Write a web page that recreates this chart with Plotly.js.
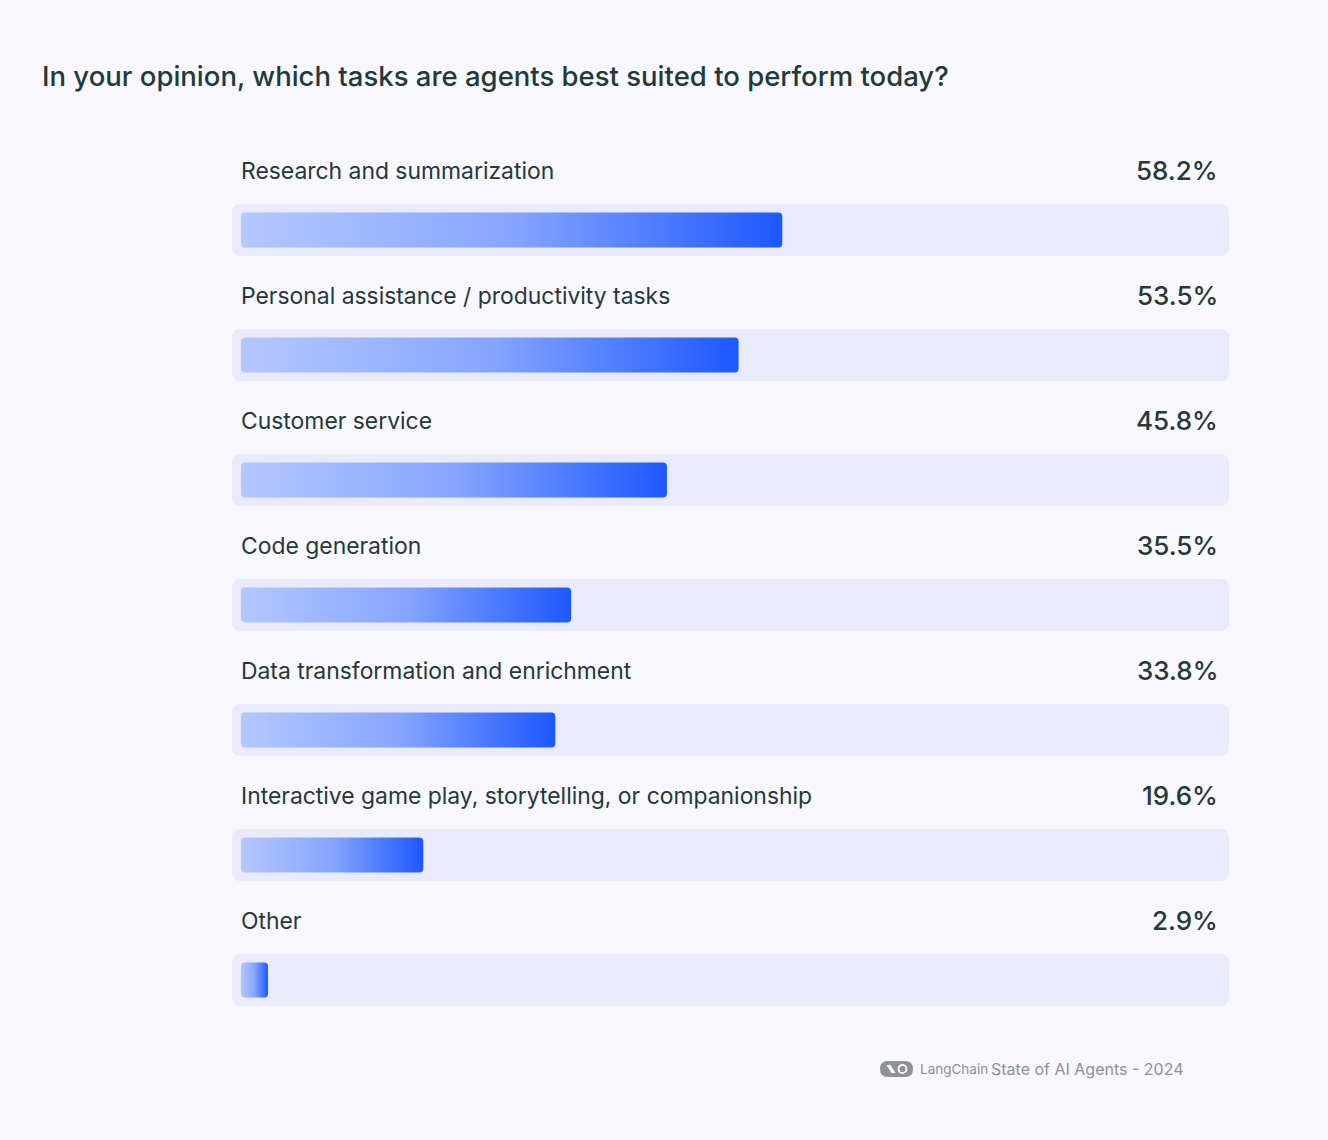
<!DOCTYPE html>
<html>
<head>
<meta charset="utf-8">
<script src="https://cdn.plot.ly/plotly-3.0.1.min.js"></script>
<style>
  html, body { margin: 0; padding: 0; background: #f7f7fd; }
  #chart { width: 1328px; height: 1140px; }
</style>
</head>
<body>
<div id="chart"></div>
<script>
// Survey answers: share of respondents per task
const tasks = [
  "Research and summarization",
  "Personal assistance / productivity tasks",
  "Customer service",
  "Code generation",
  "Data transformation and enrichment",
  "Interactive game play, storytelling, or companionship",
  "Other"
];
const shares = [58.2, 53.5, 45.8, 35.5, 33.8, 19.6, 2.9];
const shareLabels = ["58.2%", "53.5%", "45.8%", "35.5%", "33.8%", "19.6%", "2.9%"];

// Horizontal scale: pixels per percentage point, and the track padding
const W = 1328, H = 1140;
const mL = 232, mR = 99, mT = 155, mB = 85;
const plotW = W - mL - mR;
const plotH = H - mT - mB;
const pxPerPt = 9.3;
const padPx = 9;
const xMin = -padPx / pxPerPt;
const xMax = (plotW - padPx) / pxPerPt;

// helpers: page pixel -> paper fraction (paper = plot area)
const px2x = px => (px - mL) / plotW;
const px2y = py => (H - mB - py) / plotH;

const rows = tasks.map((_, i) => i);
const FONT = "Inter, 'Open Sans', sans-serif";
const TEXT = "#24393b";
const GREY = "#8d9296";

const track = {
  type: "bar", orientation: "h",
  y: rows, x: rows.map(() => xMax - xMin), base: rows.map(() => xMin),
  width: 0.416,
  marker: { color: "#e9ebfc", cornerradius: 8, line: { width: 0 } },
  hoverinfo: "skip", showlegend: false
};
const bars = {
  type: "bar", orientation: "h",
  y: rows, x: shares, base: 0,
  width: 0.28,
  marker: { color: "#4a78ff", cornerradius: 4, line: { width: 0 } },
  hovertemplate: "%{x}%<extra></extra>", showlegend: false
};

const annotations = [];
tasks.forEach((t, i) => {
  annotations.push({
    text: t, x: 0, xref: "x", xanchor: "left", xshift: -2,
    y: i, yref: "y", yanchor: "middle", yshift: 59,
    showarrow: false, font: { family: FONT, size: 22.9, color: TEXT, weight: 400 }
  });
  annotations.push({
    text: shareLabels[i], x: px2x(1220), xref: "paper", xanchor: "right",
    y: i, yref: "y", yanchor: "middle", yshift: 60,
    showarrow: false, font: { family: FONT, size: 26, color: TEXT, weight: 500 }
  });
});
// Footer credit
annotations.push({
  text: "LangChain", x: px2x(918), xref: "paper", xanchor: "left",
  y: px2y(1069), yref: "paper", yanchor: "middle",
  showarrow: false, font: { family: FONT, size: 13.5, color: GREY }
});
annotations.push({
  text: "State of AI Agents - 2024", x: px2x(1186), xref: "paper", xanchor: "right",
  y: px2y(1069), yref: "paper", yanchor: "middle",
  showarrow: false, font: { family: FONT, size: 16, color: GREY }
});

// Rounded grey badge next to the credit, with a small white link mark inside
const badgeX = px2x(896.5), badgeY = px2y(1069);
const badge = {
  type: "path", xref: "paper", yref: "paper",
  xsizemode: "pixel", ysizemode: "pixel",
  xanchor: badgeX, yanchor: badgeY,
  path: "M -8.5 -8 L 8.5 -8 Q 16.5 -8 16.5 0 Q 16.5 8 8.5 8 L -8.5 8 Q -16.5 8 -16.5 0 Q -16.5 -8 -8.5 -8 Z",
  fillcolor: GREY, line: { width: 0 }, layer: "above"
};
const linkA = {
  type: "path", xref: "paper", yref: "paper",
  xsizemode: "pixel", ysizemode: "pixel",
  xanchor: badgeX, yanchor: badgeY,
  path: "M -10 4 L -6 4 L -1 -4 L -5 -4 Z",
  fillcolor: "#ffffff", line: { width: 0 }, layer: "above"
};
const linkB = {
  type: "circle", xref: "paper", yref: "paper",
  xsizemode: "pixel", ysizemode: "pixel",
  xanchor: badgeX, yanchor: badgeY,
  x0: 2, x1: 10, y0: -4, y1: 4,
  fillcolor: "rgba(0,0,0,0)", line: { color: "#ffffff", width: 1.8 }, layer: "above"
};

const layout = {
  width: W, height: H,
  paper_bgcolor: "#f7f7fd", plot_bgcolor: "rgba(0,0,0,0)",
  margin: { l: mL, r: mR, t: mT, b: mB, pad: 0 },
  barmode: "overlay",
  title: {
    text: "In your opinion, which tasks are agents best suited to perform today?",
    x: 42 / W, xanchor: "left", xref: "container",
    y: 1 - 76 / H, yanchor: "middle", yref: "container",
    font: { family: FONT, size: 27.5, color: "#1f3a3c", weight: 500 }
  },
  xaxis: { range: [xMin, xMax], visible: false, fixedrange: true },
  yaxis: { range: [6.6, -0.6], visible: false, fixedrange: true },
  annotations: annotations,
  shapes: [badge, linkA, linkB],
  showlegend: false
};

const gd = document.getElementById("chart");
Plotly.newPlot(gd, [track, bars], layout, { displayModeBar: false, staticPlot: true }).then(() => {
  // Light-to-saturated blue ramp across each value bar
  const svgNS = "http://www.w3.org/2000/svg";
  const defs = gd.querySelector(".main-svg defs");
  const grad = document.createElementNS(svgNS, "linearGradient");
  grad.setAttribute("id", "shareRamp");
  grad.setAttribute("x1", "0"); grad.setAttribute("y1", "0");
  grad.setAttribute("x2", "1"); grad.setAttribute("y2", "0");
  [["0", "#b4c7fe"], ["0.5", "#86a5fe"], ["1", "#1d58ff"]].forEach(([o, c]) => {
    const s = document.createElementNS(svgNS, "stop");
    s.setAttribute("offset", o); s.setAttribute("stop-color", c);
    grad.appendChild(s);
  });
  defs.appendChild(grad);
  const groups = gd.querySelectorAll(".barlayer .trace");
  groups[1].querySelectorAll("path").forEach(p => { p.style.fill = "url(#shareRamp)"; });
});
</script>
</body>
</html>
